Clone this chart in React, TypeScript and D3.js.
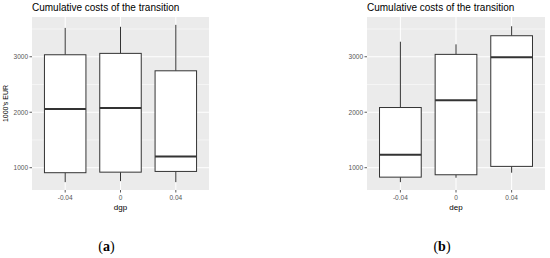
import * as React from "react";
import * as d3 from "d3";

// values (1000's EUR)
const groups = ["-0.04", "0", "0.04"];

const whiskerHighA = [3520, 3540, 3575];
const q3A = [3036, 3061, 2747];
const medianA = [2060, 2078, 1204];
const q1A = [910, 920, 933];
const whiskerLowA = [740, 758, 740];

const whiskerHighB = [3271, 3224, 3550];
const q3B = [2085, 3043, 3379];
const medianB = [1235, 2217, 2989];
const q1B = [830, 873, 1024];
const whiskerLowB = [740, 819, 910];

const yTicks = [1000, 2000, 3000];
const yMinor = [1500, 2500, 3500];

const W = 550;
const H = 258;
const TOP = 17;
const BOTTOM = 190;
const SANS = "'Liberation Sans', Arial, sans-serif";

interface PanelProps {
  x0: number;
  x1: number;
  xTitle: string;
  yTitle?: string;
  label: string;
  hi: number[];
  q3: number[];
  med: number[];
  q1: number[];
  lo: number[];
  y: d3.ScaleLinear<number, number>;
}

function Panel({ x0, x1, xTitle, yTitle, label, hi, q3, med, q1, lo, y }: PanelProps) {
  const x = d3.scalePoint<string>().domain(groups).range([x0, x1]).padding(0.6);
  const bw = x.step() * 0.75;
  const mid = (x0 + x1) / 2;
  const [dLo, dHi] = y.domain();

  return (
    <g>
      <text x={x0} y={11} fontFamily={SANS} fontSize={10} fill="#000">
        Cumulative costs of the transition
      </text>
      <rect x={x0} y={TOP} width={x1 - x0} height={BOTTOM - TOP} fill="#EBEBEB" />
      {yMinor.filter(v => v > dLo && v < dHi).map(v => (
        <line key={"m" + v} x1={x0} x2={x1} y1={y(v)} y2={y(v)} stroke="#fff" strokeWidth={0.5} />
      ))}
      {yTicks.map(v => (
        <line key={"g" + v} x1={x0} x2={x1} y1={y(v)} y2={y(v)} stroke="#fff" strokeWidth={1} />
      ))}
      {groups.map(g => (
        <line key={"gx" + g} x1={x(g)} x2={x(g)} y1={TOP} y2={BOTTOM} stroke="#fff" strokeWidth={1} />
      ))}

      {groups.map((g, i) => {
        const cx = x(g) as number;
        return (
          <g key={"b" + g} stroke="#333" fill="none">
            <line x1={cx} x2={cx} y1={y(hi[i])} y2={y(q3[i])} strokeWidth={1} />
            <line x1={cx} x2={cx} y1={y(q1[i])} y2={y(lo[i])} strokeWidth={1} />
            <rect x={cx - bw / 2} y={y(q3[i])} width={bw} height={y(q1[i]) - y(q3[i])} fill="#fff" strokeWidth={1} />
            <line x1={cx - bw / 2} x2={cx + bw / 2} y1={y(med[i])} y2={y(med[i])} strokeWidth={2} />
          </g>
        );
      })}

      {yTicks.map(v => (
        <g key={"t" + v}>
          <line x1={x0 - 2.5} x2={x0} y1={y(v)} y2={y(v)} stroke="#333" strokeWidth={0.8} />
          <text x={x0 - 4} y={y(v)} dy="0.35em" textAnchor="end" fontFamily={SANS} fontSize={6.5} fill="#555">
            {v}
          </text>
        </g>
      ))}
      {groups.map(g => (
        <g key={"tx" + g}>
          <line x1={x(g)} x2={x(g)} y1={BOTTOM} y2={BOTTOM + 2.5} stroke="#333" strokeWidth={0.8} />
          <text x={x(g)} y={200} textAnchor="middle" fontFamily={SANS} fontSize={6.5} fill="#555">
            {g}
          </text>
        </g>
      ))}
      <text x={mid} y={209.5} textAnchor="middle" fontFamily={SANS} fontSize={8} fill="#000">
        {xTitle}
      </text>
      {yTitle && (
        <text
          transform={`translate(7.5,${(TOP + BOTTOM) / 2}) rotate(-90)`}
          textAnchor="middle"
          fontFamily={SANS}
          fontSize={7}
          fill="#000"
        >
          {yTitle}
        </text>
      )}
      <text x={mid - 14} y={251} textAnchor="middle" fontFamily="'Liberation Serif', 'Times New Roman', serif" fontSize={14} fill="#000">
        (<tspan fontWeight="bold">{label}</tspan>)
      </text>
    </g>
  );
}

export default function App() {
  const all = [...whiskerHighA, ...whiskerLowA, ...whiskerHighB, ...whiskerLowB];
  const [mn, mx] = d3.extent(all) as [number, number];
  const pad = (mx - mn) * 0.05;
  const y = d3.scaleLinear().domain([mn - pad, mx + pad]).range([BOTTOM, TOP]);

  return (
    <svg width={W} height={H} style={{ position: "absolute", left: 0, top: 0, background: "#fff" }}>
      <Panel x0={32} x1={209} xTitle="dgp" yTitle="1000's EUR" label="a"
        hi={whiskerHighA} q3={q3A} med={medianA} q1={q1A} lo={whiskerLowA} y={y} />
      <Panel x0={367} x1={545} xTitle="dep" label="b"
        hi={whiskerHighB} q3={q3B} med={medianB} q1={q1B} lo={whiskerLowB} y={y} />
    </svg>
  );
}
